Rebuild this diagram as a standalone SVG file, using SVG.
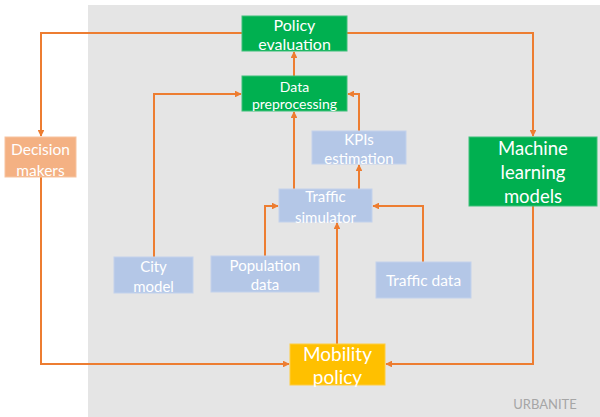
<svg xmlns="http://www.w3.org/2000/svg" width="600" height="417" viewBox="0 0 600 417">
  <style>
    .lbl { font-family: Lato, "Open Sans", "Liberation Sans", sans-serif; fill: #ffffff; text-anchor: middle; dominant-baseline: central; }
    .green { fill: #00B050; stroke: #3fc07a; stroke-width: 1; }
    .blue { fill: #B4C7E7; stroke: #c3d2ec; stroke-width: 1; }
    .peach { fill: #F4B183; stroke: #f7c4a0; stroke-width: 1; }
    .gold { fill: #FFC000; stroke: #ffcd40; stroke-width: 1; }
    .link { fill: none; stroke: #ED7D31; stroke-width: 2; marker-end: url(#arrow); }
  </style>
  <defs>
    <marker id="arrow" viewBox="0 0 10 10" refX="9" refY="5" markerWidth="3.4" markerHeight="3.4" orient="auto" markerUnits="strokeWidth">
      <path d="M0,0 L10,5 L0,10 z" fill="#ED7D31"/>
    </marker>
  </defs>

  <rect x="0" y="0" width="600" height="417" fill="#ffffff"/>
  <!-- platform area -->
  <rect x="88" y="5" width="512" height="412" fill="#E5E5E5"/>
  <text x="545" y="404" font-family="Lato, 'Open Sans', 'Liberation Sans', sans-serif" font-size="13" fill="#A6A6A6" text-anchor="middle" dominant-baseline="central">URBANITE</text>

  <g id="connectors">
    <path class="link" d="M242,33 H41 V136"/>
    <path class="link" d="M347,33 H533 V136"/>
    <path class="link" d="M41,177 V364 H289"/>
    <path class="link" d="M533,206 V364 H386"/>
    <path class="link" d="M294,76 V52"/>
    <path class="link" d="M154,257 V94 H241"/>
    <path class="link" d="M294,189 V112"/>
    <path class="link" d="M359,131 V94 H348"/>
    <path class="link" d="M359,189 V165"/>
    <path class="link" d="M265,256 V206 H278"/>
    <path class="link" d="M423,262 V206 H373"/>
    <path class="link" d="M337,344 V223"/>
  </g>

  <g id="policy-evaluation">
    <rect class="green" x="242" y="16" width="105" height="35"/>
    <text class="lbl" x="294.5" y="24" font-size="16">Policy</text>
    <text class="lbl" x="294.5" y="43.5" font-size="16">evaluation</text>
  </g>
  <g id="data-preprocessing">
    <rect class="green" x="242" y="76" width="105" height="35"/>
    <text class="lbl" x="294.5" y="86" font-size="14">Data</text>
    <text class="lbl" x="294.5" y="103.5" font-size="14">preprocessing</text>
  </g>
  <g id="decision-makers">
    <rect class="peach" x="5" y="137" width="71" height="40"/>
    <text class="lbl" x="40.5" y="149" font-size="15.5">Decision</text>
    <text class="lbl" x="40.5" y="170" font-size="15.5">makers</text>
  </g>
  <g id="machine-learning-models">
    <rect class="green" x="469" y="137" width="128" height="69"/>
    <text class="lbl" x="533" y="148" font-size="18.5">Machine</text>
    <text class="lbl" x="533" y="172" font-size="18.5">learning</text>
    <text class="lbl" x="533" y="196" font-size="18.5">models</text>
  </g>
  <g id="kpis-estimation">
    <rect class="blue" x="312" y="131" width="94" height="33"/>
    <text class="lbl" x="359" y="138.5" font-size="15">KPIs</text>
    <text class="lbl" x="359" y="158" font-size="15">estimation</text>
  </g>
  <g id="traffic-simulator">
    <rect class="blue" x="279" y="189" width="93" height="33"/>
    <text class="lbl" x="325.5" y="196" font-size="15">Traffic</text>
    <text class="lbl" x="325.5" y="216.5" font-size="15">simulator</text>
  </g>
  <g id="city-model">
    <rect class="blue" x="114" y="257" width="79" height="36"/>
    <text class="lbl" x="153.5" y="266" font-size="15">City</text>
    <text class="lbl" x="153.5" y="286" font-size="15">model</text>
  </g>
  <g id="population-data">
    <rect class="blue" x="211" y="256" width="108" height="36"/>
    <text class="lbl" x="265" y="265" font-size="15">Population</text>
    <text class="lbl" x="265" y="284" font-size="15">data</text>
  </g>
  <g id="traffic-data">
    <rect class="blue" x="376" y="262" width="95" height="36"/>
    <text class="lbl" x="423.5" y="280" font-size="15.5">Traffic data</text>
  </g>
  <g id="mobility-policy">
    <rect class="gold" x="290" y="344" width="95" height="41"/>
    <text class="lbl" x="337.5" y="353" font-size="19">Mobility</text>
    <text class="lbl" x="337.5" y="376" font-size="19">policy</text>
  </g>
</svg>
